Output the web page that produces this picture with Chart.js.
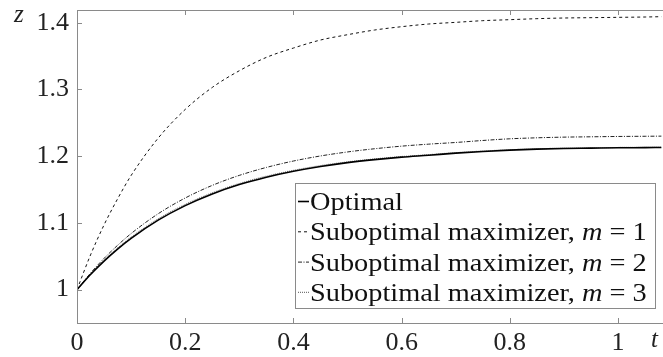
<!DOCTYPE html>
<html>
  <head>
    <title>Optimal vs suboptimal maximizer</title>
    <script src="https://cdn.jsdelivr.net/npm/chart.js"></script>
    <style>
      body { margin: 0; background: #fff; }
      #wrap { width: 663px; height: 357px; }
    </style>
  </head>
  <body>
    <div id="wrap"><canvas id="zChart" width="663" height="357"></canvas></div>

    <script>
      // time samples
      const tValues = [0, 0.025, 0.05, 0.075, 0.1, 0.15, 0.2, 0.25, 0.3, 0.35, 0.4, 0.45, 0.5,
        0.55, 0.6, 0.65, 0.7, 0.75, 0.8, 0.85, 0.9, 0.95, 1.0, 1.05, 1.08];

      const optimal = [1, 1.0226, 1.0427, 1.0607, 1.0768, 1.1041, 1.1259, 1.1434, 1.1574, 1.1685,
        1.1774, 1.1846, 1.1903, 1.1948, 1.1985, 1.2014, 1.2045, 1.207, 1.209, 1.2105, 1.2115,
        1.212, 1.2125, 1.2128, 1.213];
      const subM1 = [1, 1.052, 1.097, 1.136, 1.171, 1.227, 1.270, 1.303, 1.328, 1.348, 1.362,
        1.374, 1.382, 1.389, 1.394, 1.398, 1.4005, 1.403, 1.4045, 1.406, 1.407, 1.4075, 1.408,
        1.4085, 1.409];
      const subM2 = [1, 1.0247, 1.0468, 1.0664, 1.084, 1.1137, 1.1373, 1.1562, 1.1712, 1.1831,
        1.1927, 1.2003, 1.2063, 1.2111, 1.215, 1.218, 1.2205, 1.2235, 1.226, 1.2275, 1.2285,
        1.229, 1.2295, 1.2298, 1.23];
      const subM3 = [1, 1.0232, 1.0437, 1.0621, 1.0784, 1.1058, 1.1276, 1.145, 1.1589, 1.1699,
        1.1787, 1.1858, 1.1914, 1.1958, 1.1994, 1.2022, 1.2052, 1.2076, 1.2096, 1.211, 1.212,
        1.2125, 1.213, 1.2133, 1.2135];

      const xTicks = [0, 0.2, 0.4, 0.6, 0.8, 1];
      const yTicks = [1, 1.1, 1.2, 1.3, 1.4];

      const serif = "'Liberation Serif', 'Times New Roman', serif";

      function pts(ys) {
        return ys.map((y, i) => ({ x: tValues[i], y: y }));
      }

      // legend labels: [plain text, italic part, tail]
      const legendText = [
        ["Optimal", "", ""],
        ["Suboptimal maximizer, ", "m", " = 1"],
        ["Suboptimal maximizer, ", "m", " = 2"],
        ["Suboptimal maximizer, ", "m", " = 3"],
      ];

      const framePlugin = {
        id: "frame",
        afterDatasetsDraw(chart) {
          const ctx = chart.ctx;
          const a = chart.chartArea;
          const xs = chart.scales.x, ys = chart.scales.y;
          ctx.save();
          ctx.strokeStyle = "#8a8a8a";
          ctx.lineWidth = 1;
          ctx.strokeRect(a.left + 0.5, a.top + 0.5, a.right - a.left, a.bottom - a.top);
          ctx.beginPath();
          xTicks.forEach((v) => {
            const px = Math.round(xs.getPixelForValue(v)) + 0.5;
            ctx.moveTo(px, a.bottom); ctx.lineTo(px, a.bottom - 5);
            ctx.moveTo(px, a.top); ctx.lineTo(px, a.top + 5);
          });
          yTicks.forEach((v) => {
            const py = Math.round(ys.getPixelForValue(v)) + 0.5;
            ctx.moveTo(a.left, py); ctx.lineTo(a.left + 5, py);
          });
          ctx.stroke();

          // axis letters
          ctx.fillStyle = "#222";
          ctx.font = "italic 25px " + serif;
          ctx.textBaseline = "alphabetic";
          ctx.fillText("z", 14, 22);
          ctx.fillText("t", 651, 347);

          // legend
          const bx = 295, by = 183, bw = 360, bh = 125;
          ctx.fillStyle = "#fff";
          ctx.fillRect(bx, by, bw, bh);
          ctx.strokeStyle = "#8a8a8a";
          ctx.strokeRect(bx + 0.5, by + 0.5, bw, bh);
          chart.data.datasets.forEach((ds, i) => {
            const cy = by + 18 + i * 30.3;
            ctx.save();
            ctx.strokeStyle = ds.borderColor;
            ctx.lineWidth = ds.borderWidth;
            ctx.setLineDash(ds.borderDash || []);
            ctx.beginPath();
            ctx.moveTo(bx + 3, cy + 0.5);
            ctx.lineTo(bx + 14, cy + 0.5);
            ctx.stroke();
            ctx.restore();
            const parts = legendText[i];
            const base = cy + 9;
            ctx.save();
            ctx.translate(bx + 15, base);
            ctx.scale(1.09, 1);
            let x = 0;
            ctx.fillStyle = "#111";
            ctx.font = "26px " + serif;
            ctx.fillText(parts[0], x, 0);
            x += ctx.measureText(parts[0]).width;
            if (parts[1]) {
              ctx.font = "italic 26px " + serif;
              ctx.fillText(parts[1], x, 0);
              x += ctx.measureText(parts[1]).width;
              ctx.font = "26px " + serif;
              ctx.fillText(parts[2], x, 0);
            }
            ctx.restore();
          });
          ctx.restore();
        },
      };

      new Chart(document.getElementById("zChart").getContext("2d"), {
        type: "line",
        data: {
          datasets: [
            { label: "Optimal", data: pts(optimal), borderColor: "#000", borderWidth: 1.6 },
            { label: "Suboptimal maximizer, m = 1", data: pts(subM1), borderColor: "#111", borderWidth: 1, borderDash: [3, 3] },
            { label: "Suboptimal maximizer, m = 2", data: pts(subM2), borderColor: "#222", borderWidth: 1, borderDash: [4, 1.5, 1, 1.5] },
            { label: "Suboptimal maximizer, m = 3", data: pts(subM3), borderColor: "#777", borderWidth: 1.2, borderDash: [1, 1] },
          ],
        },
        options: {
          responsive: false,
          animation: false,
          layout: { padding: { top: 10, right: 0, left: 0, bottom: 0 } },
          elements: { point: { radius: 0 }, line: { cubicInterpolationMode: "monotone", fill: false } },
          plugins: { legend: { display: false }, tooltip: { enabled: false } },
          scales: {
            x: {
              type: "linear",
              min: 0,
              max: 1.083,
              afterBuildTicks: (s) => { s.ticks = xTicks.map((v) => ({ value: v })); },
              afterFit: (s) => { s.height = 34; s.paddingLeft = 0; s.paddingRight = 0; },
              grid: { display: false, drawTicks: false },
              border: { display: false },
              ticks: {
                padding: 5,
                color: "#222",
                font: { family: serif, size: 26 },
                callback: (v) => String(Number(v.toFixed(1))),
              },
            },
            y: {
              min: 0.95,
              max: 1.419,
              afterBuildTicks: (s) => { s.ticks = yTicks.map((v) => ({ value: v })); },
              afterFit: (s) => { s.width = 77; s.paddingTop = 0; s.paddingBottom = 0; },
              grid: { display: false, drawTicks: false },
              border: { display: false },
              ticks: {
                padding: 8,
                color: "#222",
                font: { family: serif, size: 26 },
                callback: (v) => String(Number(v.toFixed(1))),
              },
            },
          },
        },
        plugins: [framePlugin],
      });
    </script>
  </body>
</html>
